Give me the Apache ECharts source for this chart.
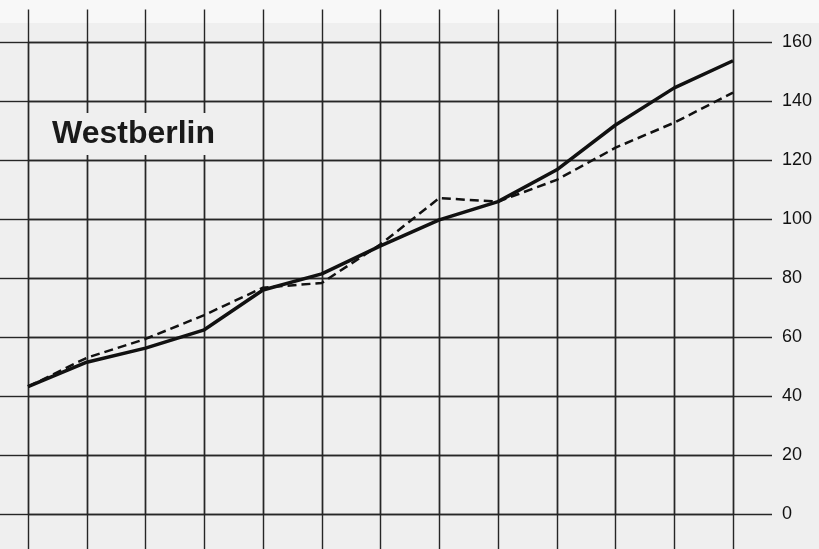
<!DOCTYPE html>
<html>
<head>
<meta charset="utf-8">
<script src="https://cdn.jsdelivr.net/npm/echarts@6/dist/echarts.min.js"></script>
<style>
  html, body { margin: 0; padding: 0; background: #efefef; }
  #main { width: 819px; height: 549px; }
</style>
</head>
<body>
<div id="main"></div>
<script>
(function () {
    "use strict";

    // x steps (no labels shown on the original)
    const steps = ['0', '1', '2', '3', '4', '5', '6', '7', '8', '9', '10', '11', '12'];
    // solid line
    const solidValues = [43.2, 51.5, 56.3, 62.5, 76, 81.5, 91, 99.8, 106, 116.8, 132, 144.6, 153.8];
    // dashed line
    const dashedValues = [43.2, 53, 59.4, 67.5, 76.8, 78.4, 91.5, 107.2, 106, 113.4, 124.3, 132.8, 143];
    const yTicks = { min: 0, max: 160, interval: 20 };

    const gridColor = '#262626';
    const lineStyle = { color: gridColor, width: 1.4 };

    function xAxisOpt(position, tickLen) {
        return {
            type: 'category',
            data: steps,
            position: position,
            boundaryGap: false,
            axisLine: { show: false, onZero: false },
            axisLabel: { show: false, interval: 0 },
            axisTick: { show: true, inside: false, length: tickLen, interval: 0, lineStyle: lineStyle },
            splitLine: { show: true, interval: 0, lineStyle: lineStyle }
        };
    }

    function yAxisOpt(position, tickLen, showLabel) {
        return {
            type: 'value',
            position: position,
            min: yTicks.min,
            max: yTicks.max,
            interval: yTicks.interval,
            axisLine: { show: false, onZero: false },
            axisTick: { show: true, inside: false, length: tickLen, lineStyle: lineStyle },
            axisLabel: {
                show: showLabel,
                margin: 49,
                align: 'left',
                fontSize: 18,
                fontFamily: 'Liberation Sans, Arial, sans-serif',
                color: '#111'
            },
            splitLine: { show: true, lineStyle: lineStyle }
        };
    }

    let myChart = echarts.init(document.getElementById('main'));
    let option = {
        backgroundColor: '#efefef',
        animation: false,
        title: {
            text: 'Westberlin',
            left: 44,
            top: 113,
            padding: [5, 8],
            backgroundColor: '#efefef',
            textStyle: {
                fontSize: 32,
                fontWeight: 'bold',
                fontFamily: 'Liberation Sans, Arial, sans-serif',
                color: '#1a1a1a'
            }
        },
        graphic: [
            {
                type: 'rect',
                z: -10,
                shape: { x: 0, y: 0, width: 819, height: 23 },
                style: { fill: '#f8f8f8' }
            }
        ],
        grid: { left: 28, right: 86, top: 42.5, bottom: 35, containLabel: false },
        xAxis: [xAxisOpt('bottom', 35), xAxisOpt('top', 33)],
        yAxis: [yAxisOpt('right', 39, true), yAxisOpt('left', 28, false)],
        series: [
            {
                name: 'solid',
                type: 'line',
                xAxisIndex: 0,
                yAxisIndex: 0,
                data: solidValues,
                symbol: 'none',
                z: 5,
                lineStyle: { color: '#111', width: 3.5, type: 'solid' }
            },
            {
                name: 'dashed',
                type: 'line',
                xAxisIndex: 0,
                yAxisIndex: 0,
                data: dashedValues,
                symbol: 'none',
                z: 4,
                lineStyle: { color: '#111', width: 2.5, type: [9, 5] }
            }
        ]
    };
    myChart.setOption(option);
})();
</script>
</body>
</html>
